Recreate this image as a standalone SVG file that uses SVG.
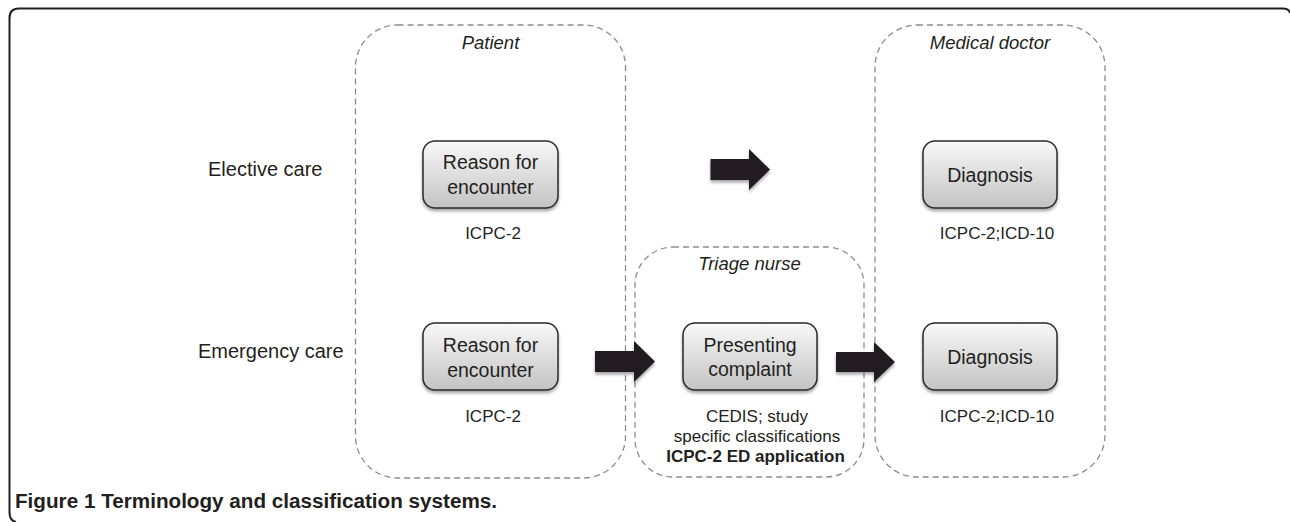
<svg xmlns="http://www.w3.org/2000/svg" width="1290" height="522" viewBox="0 0 1290 522">
  <defs>
    <linearGradient id="boxGrad" x1="0" y1="0" x2="0" y2="1">
      <stop offset="0" stop-color="#f8f8f8"/>
      <stop offset="1" stop-color="#c3c3c3"/>
    </linearGradient>
    <filter id="shadow" x="-20%" y="-20%" width="140%" height="150%">
      <feDropShadow dx="0" dy="2.5" stdDeviation="1.6" flood-color="#000" flood-opacity="0.35"/>
    </filter>
  </defs>
  <style>
    .frame { fill: none; stroke: #231f20; stroke-width: 2; }
    .lane { fill: none; stroke: #8c8c8c; stroke-width: 1.3; stroke-dasharray: 6 4; }
    .node { fill: url(#boxGrad); stroke: #2a2a2a; stroke-width: 1.5; filter: url(#shadow); }
    .t { font-family: "Liberation Sans", Arial, sans-serif; fill: #231f20; text-anchor: middle; }
    .nt { font-size: 19.5px; }
    .lane-title { font-size: 18.5px; font-style: italic; }
    .row { font-family: "Liberation Sans", Arial, sans-serif; fill: #231f20; font-size: 20px; }
    .sub { font-size: 17px; }
    .bold { font-weight: bold; }
    .arrow { fill: #231f20; filter: url(#shadow); }
    .caption { font-family: "Liberation Sans", Arial, sans-serif; fill: #231f20; font-size: 20px; font-weight: bold; }
  </style>

  <path class="frame" d="M1290 13 Q1289 8.5 1283 8.5 H19 Q9.5 8.5 9.5 18 V512 Q9.5 521 16 522"/>

  <g id="lane-patient">
    <rect class="lane" x="355.5" y="25" width="270" height="453" rx="42"/>
    <text class="t lane-title" x="490.5" y="49">Patient</text>
  </g>
  <g id="lane-triage">
    <rect class="lane" x="635" y="247" width="229" height="230" rx="38"/>
    <text class="t lane-title" x="749.5" y="270">Triage nurse</text>
  </g>
  <g id="lane-doctor">
    <rect class="lane" x="875" y="25" width="230" height="452" rx="42"/>
    <text class="t lane-title" x="990" y="49">Medical doctor</text>
  </g>

  <g id="row-labels">
    <text class="row" x="208" y="176">Elective care</text>
    <text class="row" x="198" y="358">Emergency care</text>
  </g>

  <g id="node-rfe-elective">
    <rect class="node" x="423" y="141" width="135" height="67" rx="12"/>
    <text class="t nt" x="490.5" y="169">Reason for</text>
    <text class="t nt" x="490.5" y="194">encounter</text>
    <text class="t sub" x="493" y="239">ICPC-2</text>
  </g>
  <g id="node-diag-elective">
    <rect class="node" x="923" y="141" width="134" height="67" rx="12"/>
    <text class="t nt" x="990" y="182">Diagnosis</text>
    <text class="t sub" x="997" y="239">ICPC-2;ICD-10</text>
  </g>
  <g id="node-rfe-emergency">
    <rect class="node" x="423" y="323" width="135" height="67" rx="12"/>
    <text class="t nt" x="490.5" y="352">Reason for</text>
    <text class="t nt" x="490.5" y="377">encounter</text>
    <text class="t sub" x="493" y="422">ICPC-2</text>
  </g>
  <g id="node-presenting">
    <rect class="node" x="683" y="323" width="134" height="67" rx="12"/>
    <text class="t nt" x="750" y="352">Presenting</text>
    <text class="t nt" x="750" y="376">complaint</text>
    <text class="t sub" x="757" y="422">CEDIS; study</text>
    <text class="t sub" x="757" y="442">specific classifications</text>
    <text class="t sub bold" x="755.5" y="462">ICPC-2 ED application</text>
  </g>
  <g id="node-diag-emergency">
    <rect class="node" x="923" y="323" width="134" height="67" rx="12"/>
    <text class="t nt" x="990" y="364">Diagnosis</text>
    <text class="t sub" x="997" y="422">ICPC-2;ICD-10</text>
  </g>

  <g id="connectors">
    <path class="arrow" d="M710.5 159 H749 V149 L770 169.5 L749 190 V180 H710.5 Z"/>
    <path class="arrow" d="M595 351 H634 V341 L655 361.5 L634 382 V372 H595 Z"/>
    <path class="arrow" d="M836 352 H874 V342 L895 362 L874 382 V372 H836 Z"/>
  </g>

  <text class="caption" x="15" y="508" textLength="482" lengthAdjust="spacingAndGlyphs">Figure 1 Terminology and classification systems.</text>
</svg>
